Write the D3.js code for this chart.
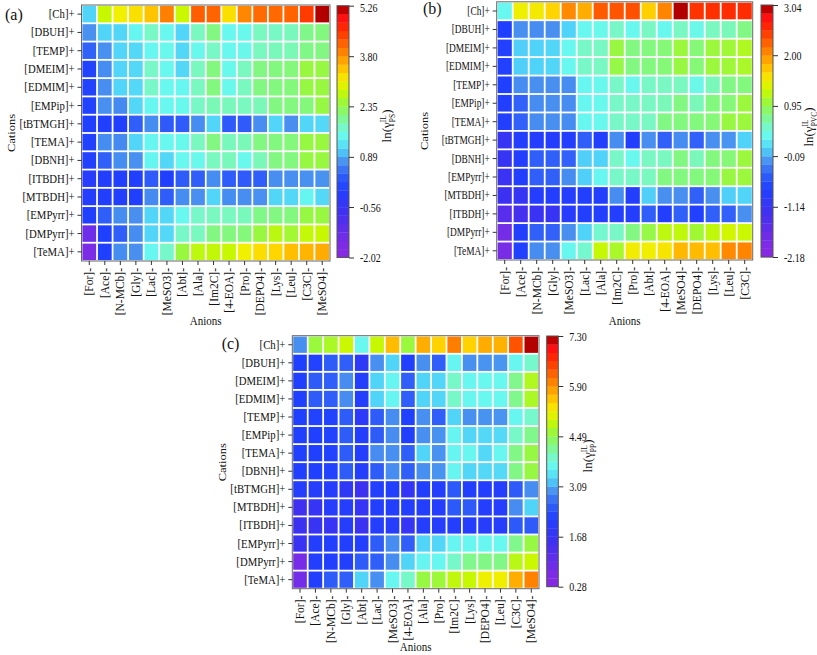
<!DOCTYPE html>
<html>
<head>
<meta charset="utf-8">
<script src="https://cdn.jsdelivr.net/npm/d3@7"></script>
<style>
	html, body { margin: 0; padding: 0; background: #fff; }
	svg text { font-family: 'Liberation Serif', 'Times New Roman', serif; fill: #111; }
</style>
</head>
<body>
<div id="chart"></div>
<script>
'use strict';

// ---- panel (a): PS ----
var anionsA = ['[For]-', '[Ace]-', '[N-MCb]-', '[Gly]-', '[Lac]-', '[MeSO3]-', '[Abt]-', '[Ala]-',
	'[Im2C]-', '[4-EOA]-', '[Pro]-', '[DEPO4]-', '[Lys]-', '[Leu]-', '[C3C]-', '[MeSO4]-'];
var cationsA = ['[Ch]+', '[DBUH]+', '[TEMP]+', '[DMEIM]+', '[EDMIM]+', '[EMPip]+', '[tBTMGH]+',
	'[TEMA]+', '[DBNH]+', '[ITBDH]+', '[MTBDH]+', '[EMPyrr]+', '[DMPyrr]+', '[TeMA]+'];
var valuesA = [
	[1.11, 2.78, 3.08, 3.22, 3.44, 3.95, 2.80, 4.20, 4.15, 3.22, 3.90, 4.10, 4.12, 4.15, 4.45, 5.19],
	[0.75, 1.11, 1.13, 1.45, 1.78, 1.48, 1.12, 1.80, 2.08, 1.47, 1.50, 1.80, 1.78, 1.82, 2.05, 2.10],
	[0.40, 0.75, 1.12, 1.15, 1.46, 1.50, 1.14, 1.50, 1.78, 1.48, 1.52, 1.80, 1.82, 1.85, 2.06, 2.08],
	[-0.02, 0.72, 1.12, 1.15, 1.76, 1.48, 1.14, 1.80, 2.10, 1.50, 1.80, 2.08, 2.10, 2.12, 2.42, 2.40],
	[-0.02, 0.73, 1.12, 1.15, 1.76, 1.48, 1.46, 1.80, 2.10, 1.50, 1.80, 2.08, 2.10, 2.12, 2.40, 2.42],
	[-0.03, 0.74, 0.70, 1.14, 1.46, 1.48, 1.50, 1.78, 1.85, 1.82, 1.80, 1.84, 2.08, 2.10, 2.12, 2.40],
	[-0.05, -0.08, -0.08, 0.35, 0.72, 0.30, 0.32, 0.72, 1.12, 0.30, 0.32, 0.73, 1.12, 0.74, 1.13, 1.15],
	[-0.04, 0.72, 0.70, 1.12, 1.46, 1.48, 1.50, 1.80, 2.08, 1.82, 1.84, 2.08, 2.10, 2.12, 2.40, 2.42],
	[-0.04, 0.38, 0.72, 0.75, 1.45, 1.14, 1.48, 1.50, 1.80, 1.82, 1.50, 1.84, 2.08, 2.10, 2.40, 2.42],
	[-0.20, -0.10, -0.10, -0.08, 0.32, -0.05, 0.33, 0.35, 0.72, 0.34, 0.32, 0.36, 0.73, 0.74, 0.75, 0.76],
	[-0.15, -0.10, -0.10, -0.08, 0.70, 0.34, 0.72, 0.74, 1.12, 0.72, 0.73, 0.75, 1.13, 1.14, 1.45, 1.15],
	[-0.08, 0.36, 0.72, 0.74, 1.12, 1.14, 1.48, 1.76, 1.80, 1.80, 1.82, 2.06, 2.08, 2.10, 2.40, 2.42],
	[-1.40, -0.06, 0.36, 0.72, 1.12, 1.15, 1.76, 1.80, 2.08, 2.10, 2.12, 2.42, 2.68, 2.50, 2.75, 2.78],
	[-1.62, -0.05, 0.72, 0.74, 1.46, 1.75, 2.42, 2.70, 2.74, 2.78, 3.08, 3.25, 3.30, 3.48, 3.56, 3.62]
];
var ticksA = [-2.02, -0.56, 0.89, 2.35, 3.80, 5.26];

// ---- panel (b): PVC ----
var anionsB = ['[For]-', '[Ace]-', '[N-MCb]-', '[Gly]-', '[MeSO3]-', '[Lac]-', '[Ala]-', '[Im2C]-',
	'[Pro]-', '[Abt]-', '[4-EOA]-', '[MeSO4]-', '[DEPO4]-', '[Lys]-', '[Leu]-', '[C3C]-'];
var cationsB = ['[Ch]+', '[DBUH]+', '[DMEIM]+', '[EDMIM]+', '[TEMP]+', '[EMPip]+', '[TEMA]+',
	'[tBTMGH]+', '[DBNH]+', '[EMPyrr]+', '[MTBDH]+', '[ITBDH]+', '[DMPyrr]+', '[TeMA]+'];
var valuesB = [
	[0.33, 1.47, 1.52, 1.65, 2.05, 1.85, 2.30, 2.33, 2.35, 1.68, 2.08, 2.99, 2.50, 2.52, 2.55, 2.55],
	[-0.77, -0.20, -0.22, -0.20, 0.06, 0.33, 0.35, 0.53, 0.34, 0.55, 0.34, 0.55, 0.36, 0.56, 0.58, 0.75],
	[-0.78, 0.05, 0.06, 0.08, 0.33, 0.53, 0.55, 1.00, 0.76, 0.78, 0.80, 1.02, 0.80, 1.02, 1.04, 1.13],
	[-0.78, 0.05, 0.06, 0.08, 0.33, 0.53, 0.55, 0.98, 0.76, 0.78, 0.80, 1.00, 0.80, 1.02, 1.04, 1.10],
	[-0.77, -0.22, -0.20, -0.20, -0.22, 0.32, 0.34, 0.53, 0.34, 0.54, 0.55, 0.56, 0.36, 0.58, 0.75, 0.78],
	[-0.80, -0.45, -0.22, -0.20, -0.22, 0.32, 0.34, 0.53, 0.54, 0.55, 0.58, 0.76, 0.58, 0.78, 0.80, 1.02],
	[-0.80, -0.45, -0.22, -0.20, -0.22, 0.32, 0.34, 0.53, 0.54, 0.55, 0.75, 0.78, 0.78, 0.80, 1.00, 1.02],
	[-1.10, -0.82, -0.85, -0.84, -0.82, -0.48, -0.80, -0.22, -0.80, -0.20, -0.46, -0.22, -0.45, -0.20, -0.18, 0.06],
	[-1.10, -0.82, -0.48, -0.46, -0.45, 0.05, 0.06, 0.53, 0.34, 0.55, 0.56, 0.76, 0.58, 0.78, 0.80, 1.02],
	[-1.15, -0.80, -0.48, -0.46, -0.22, 0.05, 0.32, 0.53, 0.54, 0.56, 0.76, 0.78, 0.78, 0.80, 1.00, 1.02],
	[-1.20, -1.10, -0.85, -0.82, -0.84, -0.80, -0.80, -0.22, -0.82, 0.05, -0.20, -0.20, -0.46, -0.20, 0.05, 0.07],
	[-1.50, -1.30, -1.15, -1.12, -0.88, -0.80, -0.80, -0.82, -0.82, -0.48, -0.80, -0.46, -0.78, -0.46, -0.45, -0.20],
	[-1.80, -0.80, -0.46, -0.45, -0.20, 0.06, 0.50, 0.54, 0.76, 0.98, 1.20, 1.22, 1.05, 1.22, 1.32, 1.28],
	[-1.85, -0.78, -0.22, -0.20, 0.32, 0.50, 1.25, 1.10, 1.50, 1.48, 1.55, 1.80, 1.78, 1.76, 2.05, 2.08]
];
var ticksB = [-2.18, -1.14, -0.09, 0.95, 2.00, 3.04];

// ---- panel (c): PP ----
var anionsC = ['[For]-', '[Ace]-', '[N-MCb]-', '[Gly]-', '[Abt]-', '[Lac]-', '[MeSO3]-', '[4-EOA]-',
	'[Ala]-', '[Pro]-', '[Im2C]-', '[Lys]-', '[DEPO4]-', '[Leu]-', '[C3C]-', '[MeSO4]-'];
var cationsC = ['[Ch]+', '[DBUH]+', '[DMEIM]+', '[EDMIM]+', '[TEMP]+', '[EMPip]+', '[TEMA]+',
	'[DBNH]+', '[tBTMGH]+', '[MTBDH]+', '[ITBDH]+', '[EMPyrr]+', '[DMPyrr]+', '[TeMA]+'];
var valuesC = [
	[2.95, 4.58, 4.70, 4.92, 3.65, 4.90, 5.60, 4.58, 5.70, 5.45, 6.05, 5.45, 5.72, 5.68, 6.35, 7.23],
	[2.18, 2.20, 2.55, 2.58, 1.90, 2.95, 3.30, 2.15, 2.95, 2.58, 3.62, 2.95, 2.97, 2.98, 3.64, 3.90],
	[2.18, 2.55, 2.58, 2.92, 2.10, 3.30, 3.62, 2.58, 3.30, 3.32, 3.92, 3.64, 3.66, 3.66, 4.20, 4.74],
	[2.18, 2.55, 2.58, 2.92, 2.10, 3.30, 3.62, 2.58, 3.30, 3.32, 3.92, 3.64, 3.66, 3.66, 4.20, 4.70],
	[2.18, 2.20, 2.22, 2.55, 1.92, 2.55, 2.92, 2.18, 2.94, 2.58, 3.30, 2.95, 2.96, 2.97, 3.64, 3.90],
	[2.15, 2.18, 2.20, 2.55, 2.10, 2.55, 2.92, 2.15, 2.94, 2.96, 3.62, 3.32, 3.34, 3.35, 3.92, 4.20],
	[2.15, 2.18, 2.20, 2.55, 2.10, 2.92, 2.94, 2.58, 3.30, 2.96, 3.62, 3.64, 3.34, 3.64, 4.22, 4.55],
	[2.15, 2.18, 2.20, 2.55, 2.10, 2.55, 2.92, 2.58, 2.94, 2.96, 3.62, 3.32, 3.34, 3.35, 4.22, 4.55],
	[2.10, 2.05, 2.08, 1.85, 1.60, 2.12, 2.12, 1.80, 2.12, 2.10, 2.50, 2.12, 2.10, 2.08, 2.52, 2.92],
	[1.55, 1.75, 2.05, 2.08, 1.75, 2.12, 2.12, 2.10, 2.10, 2.08, 2.50, 2.52, 2.10, 2.08, 2.92, 3.30],
	[1.60, 1.70, 1.72, 2.05, 1.62, 2.10, 2.05, 1.75, 2.08, 2.05, 2.10, 2.08, 2.05, 2.05, 2.50, 2.52],
	[1.65, 2.10, 2.12, 2.12, 2.10, 2.55, 2.92, 2.58, 3.30, 3.32, 3.62, 3.64, 3.64, 3.66, 4.20, 4.55],
	[0.75, 2.12, 2.12, 2.14, 2.55, 2.58, 2.92, 3.30, 3.62, 3.64, 3.92, 4.20, 4.22, 4.22, 4.80, 4.92],
	[0.80, 2.12, 2.55, 2.58, 3.30, 2.94, 3.64, 3.92, 4.55, 4.60, 4.85, 4.90, 5.18, 5.20, 5.70, 6.02]
];
var ticksC = [0.28, 1.68, 3.09, 4.49, 5.90, 7.30];

// colour map (fraction of the colour bar range -> colour)
var colourStops = [0, 0.06, 0.18, 0.27, 0.33, 0.38, 0.43, 0.48, 0.52, 0.56, 0.61, 0.66,
	0.70, 0.73, 0.77, 0.82, 0.86, 0.90, 0.95, 0.975, 1];
var colourList = ['#8a28e0', '#7a2ce6', '#4030f0', '#2040ff', '#3060f8', '#4890f0', '#50d4f8',
	'#68f8f0', '#78f8c8', '#80f888', '#98f840', '#c8f800', '#f0f000', '#ffd800', '#ffb000',
	'#ff8000', '#ff5800', '#ff3000', '#ff1010', '#d00000', '#a00000'];

var W = 817, H = 655;

var svg = d3.select('#chart').append('svg')
	.attr('width', W)
	.attr('height', H);

function colourScale (lo, hi)	{
	return d3.scaleLinear()
		.domain(colourStops.map(function (t) { return lo + t * (hi - lo); }))
		.range(colourList)
		.clamp(true);
}

// the source raster has narrow type: squeeze horizontal text a bit
function squeeze (sel, x0, k)	{
	sel.attr('x', x0 / k).attr('transform', 'scale(' + k + ',1)');
}

function drawPanel (p)	{
	var g = svg.append('g');
	var lo = p.ticks[0], hi = p.ticks[p.ticks.length - 1];
	var colour = colourScale(lo, hi);

	var x = d3.scaleBand().domain(p.anions).range([p.plot[0], p.plot[1]]);
	var y = d3.scaleBand().domain(p.cations).range([p.plot[2], p.plot[3]]);
	var gap = 0.9;

	g.append('rect')
		.attr('x', p.plot[0]).attr('y', p.plot[2])
		.attr('width', p.plot[1] - p.plot[0])
		.attr('height', p.plot[3] - p.plot[2])
		.attr('fill', '#fff');

	var cells = [];
	p.values.forEach(function (row, i)	{
		row.forEach(function (v, j)	{
			cells.push({ c: p.cations[i], a: p.anions[j], v: v });
		});
	});

	g.selectAll('rect.cell').data(cells).enter().append('rect')
		.attr('class', 'cell')
		.attr('x', function (d) { return x(d.a) + gap; })
		.attr('y', function (d) { return y(d.c) + gap; })
		.attr('width', x.bandwidth() - 2 * gap)
		.attr('height', y.bandwidth() - 2 * gap)
		.attr('fill', function (d) { return colour(d.v); });

	g.append('rect')
		.attr('x', p.plot[0]).attr('y', p.plot[2])
		.attr('width', p.plot[1] - p.plot[0])
		.attr('height', p.plot[3] - p.plot[2])
		.attr('fill', 'none')
		.attr('stroke', '#666')
		.attr('stroke-width', 1);

	// axes
	var ya = g.append('g')
		.attr('transform', 'translate(' + p.plot[0] + ',0)')
		.call(d3.axisLeft(y).tickSize(4).tickPadding(3));
	ya.select('.domain').remove();
	ya.selectAll('text').attr('font-size', 12.5).style('font-family', null)
		.call(squeeze, -7, p.yK);
	ya.selectAll('line').attr('stroke', '#333');

	var xa = g.append('g')
		.attr('transform', 'translate(0,' + p.plot[3] + ')')
		.call(d3.axisBottom(x).tickSize(4));
	xa.select('.domain').remove();
	xa.selectAll('text')
		.attr('font-size', 11.5)
		.style('font-family', null)
		.attr('y', 0)
		.attr('x', -7)
		.attr('dy', '0.35em')
		.attr('transform', 'rotate(-90)')
		.style('text-anchor', 'end');
	xa.selectAll('line').attr('stroke', '#333');

	g.append('text')
		.attr('transform', 'translate(' + (p.plot[0] + p.plot[1]) / 2 + ',' + p.anionsY + ') scale(0.88,1)')
		.attr('text-anchor', 'middle')
		.attr('font-size', 12.5)
		.text('Anions');

	g.append('text')
		.attr('transform', 'translate(' + p.cationsX + ',' + (p.plot[2] + p.plot[3]) / 2 + ') rotate(-90) scale(1,0.88)')
		.attr('text-anchor', 'middle')
		.attr('font-size', 12.5)
		.text('Cations');

	g.append('text')
		.attr('x', p.letter[0]).attr('y', p.letter[1])
		.attr('font-size', 16)
		.text(p.name);

	// colour bar
	var cb = d3.scaleLinear().domain([lo, hi]).range([p.bar[3], p.bar[2]]);
	var nBand = 30;
	var bands = d3.range(nBand).map(function (i)	{
		return { a: lo + i * (hi - lo) / nBand, b: lo + (i + 1) * (hi - lo) / nBand };
	});
	g.selectAll('rect.band').data(bands).enter().append('rect')
		.attr('class', 'band')
		.attr('x', p.bar[0])
		.attr('y', function (d) { return cb(d.b); })
		.attr('width', p.bar[1] - p.bar[0])
		.attr('height', function (d) { return cb(d.a) - cb(d.b) + 0.3; })
		.attr('fill', function (d) { return colour((d.a + d.b) / 2); });
	g.append('rect')
		.attr('x', p.bar[0]).attr('y', p.bar[2])
		.attr('width', p.bar[1] - p.bar[0])
		.attr('height', p.bar[3] - p.bar[2])
		.attr('fill', 'none')
		.attr('stroke', '#555');

	var ca = g.append('g')
		.attr('transform', 'translate(' + p.bar[1] + ',0)')
		.call(d3.axisRight(cb).tickValues(p.ticks).tickSize(5).tickPadding(6)
			.tickFormat(function (d) { return d.toFixed(2); }));
	ca.select('.domain').remove();
	ca.selectAll('text').attr('font-size', 12.5).style('font-family', null)
		.call(squeeze, 11, 0.8);
	// keep the top label inside the page
	ca.selectAll('text').filter(function (d) { return cb(d) < 8; })
		.attr('dy', '0.5em');
	ca.selectAll('line').attr('stroke', '#333');

	var lab = g.append('text')
		.attr('transform', 'translate(' + p.barLabel[0] + ',' + p.barLabel[1] + ') rotate(-90)')
		.attr('text-anchor', 'middle')
		.attr('font-size', 13);
	lab.append('tspan').text('ln(γ');
	lab.append('tspan').attr('font-size', 7.5).attr('dy', -5).text('IL');
	lab.append('tspan').attr('font-size', 7.5).attr('dx', -7).attr('dy', 8.5).text(p.sub);
	lab.append('tspan').attr('dy', -3.5).text(')');
}

drawPanel({
	name: '(a)', sub: 'PS',
	anions: anionsA, cations: cationsA, values: valuesA, ticks: ticksA,
	plot: [81.5, 330, 5, 261], bar: [337, 349, 5.7, 257.5],
	letter: [5, 20], cationsX: 15, anionsY: 325, barLabel: [391, 126], yK: 0.86
});

drawPanel({
	name: '(b)', sub: 'PVC',
	anions: anionsB, cations: cationsB, values: valuesB, ticks: ticksB,
	plot: [496.7, 752.7, 1.8, 260], bar: [761, 773, 5, 257],
	letter: [423, 14], cationsX: 428, anionsY: 325, barLabel: [813, 127], yK: 0.75
});

drawPanel({
	name: '(c)', sub: 'PP',
	anions: anionsC, cations: cationsC, values: valuesC, ticks: ticksC,
	plot: [292.3, 539, 335.7, 588.7], bar: [546.7, 558.3, 336, 586.7],
	letter: [221.7, 349], cationsX: 226, anionsY: 651, barLabel: [592, 456], yK: 0.86
});
</script>
</body>
</html>
